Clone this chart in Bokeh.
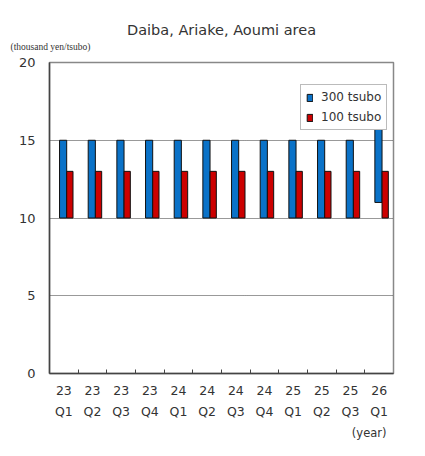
from bokeh.embed import file_html
from bokeh.models import ColumnDataSource, FixedTicker, Legend, LegendItem, Range1d, Title
from bokeh.plotting import figure
from bokeh.resources import INLINE

years = ["23", "23", "23", "23", "24", "24", "24", "24", "25", "25", "25", "26"]
quarters = ["Q1", "Q2", "Q3", "Q4", "Q1", "Q2", "Q3", "Q4", "Q1", "Q2", "Q3", "Q1"]

# range bars: low / high per quarter (thousand yen/tsubo)
low_300 = [10, 10, 10, 10, 10, 10, 10, 10, 10, 10, 10, 11]
high_300 = [15, 15, 15, 15, 15, 15, 15, 15, 15, 15, 15, 16]
low_100 = [10, 10, 10, 10, 10, 10, 10, 10, 10, 10, 10, 10]
high_100 = [13, 13, 13, 13, 13, 13, 13, 13, 13, 13, 13, 13]

FONT = "DejaVu Sans"
TXT = "#333333"

n = len(years)
idx = list(range(n))
src_300 = ColumnDataSource(data=dict(x=[i + 0.475 for i in idx], bottom=low_300, top=high_300))
src_100 = ColumnDataSource(data=dict(x=[i + 0.71 for i in idx], bottom=low_100, top=high_100))

p = figure(
    width=409,
    height=440,
    x_range=Range1d(0, n),
    y_range=Range1d(0, 20),
    output_backend="svg",
    toolbar_location=None,
    min_border_left=49,
    min_border_right=16,
    min_border_top=62,
    min_border_bottom=64,
)

r1 = p.vbar(x="x", bottom="bottom", top="top", width=0.25, source=src_300,
            fill_color="#0A72C8", line_color="#111111", line_width=1)
r2 = p.vbar(x="x", bottom="bottom", top="top", width=0.22, source=src_100,
            fill_color="#CC0000", line_color="#111111", line_width=1)

# x axis: labels at centres, small inward ticks at boundaries
centres = [i + 0.5 for i in idx]
p.xaxis.ticker = FixedTicker(ticks=centres, minor_ticks=list(range(1, n)))
p.xaxis.major_label_overrides = {c: f"{y}\n{q}" for c, y, q in zip(centres, years, quarters)}
p.xaxis.major_tick_in = 0
p.xaxis.major_tick_out = 0
p.xaxis.minor_tick_in = 4
p.xaxis.minor_tick_out = 0
p.xaxis.minor_tick_line_color = "#444444"
p.xaxis.axis_line_color = "#444444"
p.xaxis.axis_line_width = 1.5
p.xaxis.major_label_text_font = FONT
p.xaxis.major_label_text_font_size = "12.5px"
p.xaxis.major_label_text_color = TXT
p.xaxis.major_label_standoff = 9
p.xaxis.major_label_text_line_height = 1.45

p.yaxis.ticker = FixedTicker(ticks=[0, 5, 10, 15, 20])
p.yaxis.major_tick_in = 0
p.yaxis.major_tick_out = 0
p.yaxis.minor_tick_line_color = None
p.yaxis.axis_line_color = "#444444"
p.yaxis.axis_line_width = 1.5
p.yaxis.major_label_text_font = FONT
p.yaxis.major_label_text_font_size = "13px"
p.yaxis.major_label_text_color = TXT
p.yaxis.major_label_standoff = 14

p.xgrid.grid_line_color = None
p.ygrid.grid_line_color = "#333333"
p.ygrid.grid_line_dash = "1 1"
p.ygrid.grid_line_width = 1
p.outline_line_color = "#888888"
p.outline_line_width = 1.5

legend = Legend(
    items=[LegendItem(label="300 tsubo", renderers=[r1]),
           LegendItem(label="100 tsubo", renderers=[r2])],
    location=(251, 243),
    label_text_font=FONT,
    label_text_font_size="12px",
    label_text_color=TXT,
    glyph_width=7,
    glyph_height=9,
    spacing=6,
    padding=5,
    margin=0,
    label_standoff=8,
    border_line_color="#777777",
    background_fill_alpha=1,
)
p.add_layout(legend, "center")

p.add_layout(Title(text="(year)", align="right", text_font=FONT, text_font_size="11.5px",
                   text_font_style="normal", text_color=TXT, offset=7, standoff=2), "below")
p.add_layout(Title(text="(thousand yen/tsubo)", align="left", text_font="Liberation Sans Narrow",
                   text_font_size="9.5px", text_font_style="normal", text_color=TXT,
                   offset=-39, standoff=21), "above")
p.add_layout(Title(text="Daiba, Ariake, Aoumi area", align="center", text_font=FONT,
                   text_font_size="14.5px", text_font_style="normal", text_color=TXT,
                   standoff=-16), "above")

open("out.html", "w").write(file_html(p, INLINE))
